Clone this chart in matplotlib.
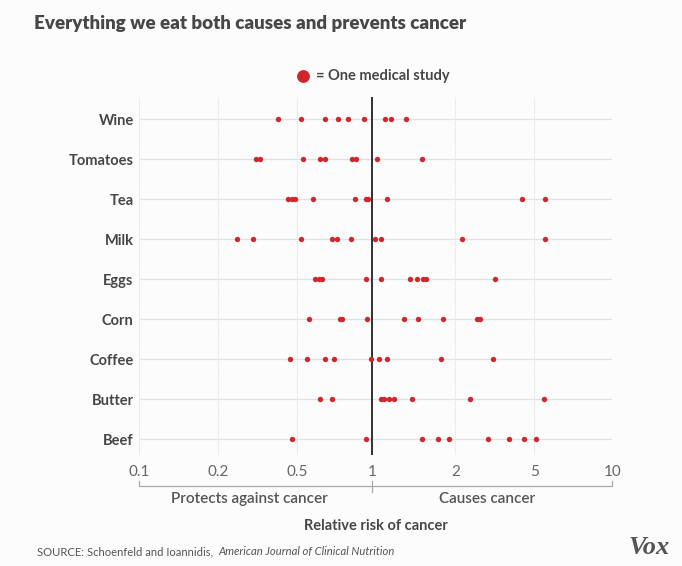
import numpy as np
import matplotlib
matplotlib.use("Agg")
import matplotlib.pyplot as plt

# Dane: względne ryzyko z poszczególnych badań
foods = ['Wine', 'Tomatoes', 'Tea', 'Milk', 'Eggs', 'Corn', 'Coffee', 'Butter', 'Beef']

wine = [0.40, 0.52, 0.65, 0.73, 0.80, 0.93, 1.11, 1.17, 1.33]
tomatoes = [0.31, 0.325, 0.53, 0.62, 0.65, 0.83, 0.86, 1.04, 1.52]
tea = [0.45, 0.47, 0.49, 0.58, 0.85, 0.94, 0.96, 1.13, 4.33, 5.49]
milk = [0.25, 0.30, 0.52, 0.69, 0.72, 0.82, 1.02, 1.08, 2.17, 5.49]
eggs = [0.59, 0.61, 0.63, 0.94, 1.08, 1.37, 1.45, 1.53, 1.56, 3.17]
corn = [0.56, 0.74, 0.76, 0.95, 1.30, 1.47, 1.80, 2.57, 2.65]
coffee = [0.46, 0.55, 0.65, 0.70, 0.99, 1.06, 1.13, 1.78, 3.09]
butter = [0.62, 0.69, 1.08, 1.10, 1.15, 1.20, 1.39, 2.36, 5.44]
beef = [0.47, 0.94, 1.51, 1.73, 1.90, 2.92, 3.71, 4.44, 5.08]

studies = [wine, tomatoes, tea, milk, eggs, corn, coffee, butter, beef]

tick_vals = [0.1, 0.2, 0.5, 1, 2, 5, 10]
tick_labels = ['0.1', '0.2', '0.5', '1', '2', '5', '10']

RED = '#d1262c'
DARK = '#474747'
GREY = '#666666'

plt.rcParams['font.family'] = ['Lato', 'DejaVu Sans']

# skala: etykiety osi rozmieszczone (prawie) równo, jak w oryginale
log_ticks = np.log10(tick_vals)
tick_pos = [0, 1.0, 2.0, 2.955, 4.01, 5.01, 6.0]


def forward(x):
    x = np.clip(np.asarray(x, dtype=float), 1e-6, None)
    return np.interp(np.log10(x), log_ticks, tick_pos)


def inverse(u):
    return 10 ** np.interp(np.asarray(u, dtype=float), tick_pos, log_ticks)


W, H = 682, 566
fig = plt.figure(figsize=(W / 100, H / 100), dpi=100)
fig.patch.set_facecolor('#fcfcfc')

ax = fig.add_axes([139.3 / W, 1 - 455 / H, 473 / W, 358 / H])
ax.set_facecolor('#fcfcfc')
ax.set_xscale('function', functions=(forward, inverse))
ax.set_xlim(0.1, 10)
ax.set_ylim(8.39, -0.557)

for i, vals in enumerate(studies):
    ax.axhline(i, color='#e2e2e2', linewidth=0.9, zorder=1)
    ax.scatter(vals, [i] * len(vals), s=15, color=RED, zorder=3, linewidths=0)

for v in tick_vals:
    ax.axvline(v, color='#dcdcdc', linewidth=0.8, linestyle=(0, (1, 1)), zorder=0)
ax.axvline(1, color='#222222', linewidth=1.3, zorder=2)

ax.set_yticks(range(len(foods)))
ax.set_yticklabels(foods, fontsize=10.5, fontweight='bold', color=DARK)
ax.set_xticks(tick_vals)
ax.set_xticklabels(tick_labels, fontsize=11, color=GREY)
ax.tick_params(axis='y', length=0, pad=4)
ax.tick_params(axis='x', length=0, pad=7)
ax.xaxis.set_minor_locator(matplotlib.ticker.NullLocator())
for s in ax.spines.values():
    s.set_visible(False)

# klamra pod osią
tr = ax.get_xaxis_transform()
ax.plot([0.1, 0.1, 10, 10], [-0.0726, -0.0866, -0.0866, -0.0726], color='#aaaaaa',
        linewidth=0.9, transform=tr, clip_on=False)
ax.plot([1, 1], [-0.0726, -0.1034], color='#aaaaaa', linewidth=0.9, transform=tr, clip_on=False)

ax.text(0.232, -0.123, 'Protects against cancer', transform=ax.transAxes, ha='center', va='center',
        fontsize=11, color='#555555', fontweight='semibold')
ax.text(0.736, -0.123, 'Causes cancer', transform=ax.transAxes, ha='center', va='center',
        fontsize=11, color='#555555', fontweight='semibold')
ax.text(0.50, -0.198, 'Relative risk of cancer', transform=ax.transAxes, ha='center', va='center',
        fontsize=10.5, color=DARK, fontweight='bold')

# tytuł, legenda, źródło
fig.text(34 / W, 1 - 23 / H, 'Everything we eat both causes and prevents cancer', ha='left', va='center',
         fontsize=13.5, fontweight='heavy', color=DARK)
lax = fig.add_axes([0, 0, 1, 1], facecolor='none')
lax.set_xlim(0, W)
lax.set_ylim(H, 0)
lax.axis('off')
lax.scatter([303], [76], s=85, color=RED, linewidths=0)
lax.text(316, 76, '= One medical study', ha='left', va='center', fontsize=10.5,
         fontweight='bold', color=DARK)
src = lax.text(37, 552, 'SOURCE: Schoenfeld and Ioannidis, ', ha='left', va='center', fontsize=8.1,
               color='#555555')
renderer = fig.canvas.get_renderer()
bb = src.get_window_extent(renderer)
lax.text(bb.x1 + 2, 552, 'American Journal of Clinical Nutrition', ha='left', va='center',
         fontsize=8.1, color='#555555', style='italic')
lax.text(649, 547, 'Vox', ha='center', va='center', fontsize=19, fontweight='bold', style='italic',
         family='Liberation Serif', color='#555555')

fig.savefig('out.png', dpi=100, facecolor=fig.get_facecolor())
